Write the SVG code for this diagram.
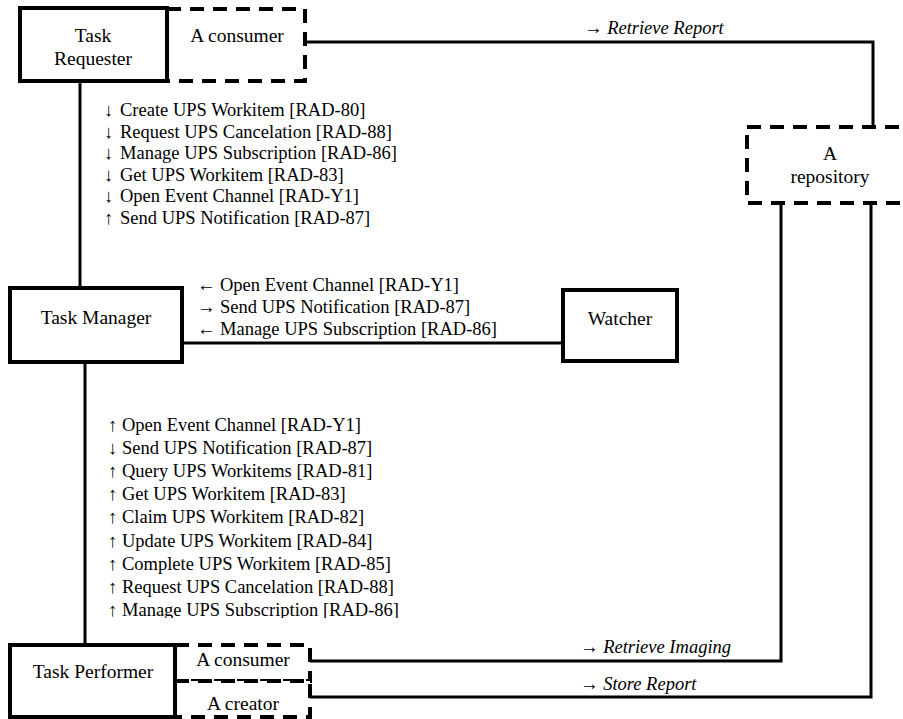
<svg xmlns="http://www.w3.org/2000/svg" width="903" height="719" viewBox="0 0 903 719">
<style>
.box{fill:#fff;stroke:#000;stroke-width:4}
.dbox{fill:#fff;stroke:#000;stroke-width:4;stroke-dasharray:14 9}
.ln{fill:none;stroke:#000;stroke-width:3}
text{font-family:'Liberation Serif','Times New Roman',serif;font-size:18.5px;fill:#000}
.lbl{font-size:19.5px}
.c{text-anchor:middle}
.i{font-style:italic}
</style>
<defs>
<clipPath id="clipList"><rect x="90" y="380" width="420" height="238"/></clipPath>
</defs>
<rect width="903" height="719" fill="#fff"/>
<g id="connectors">
<line class="ln" x1="80" y1="81" x2="80" y2="288"/>
<line class="ln" x1="85" y1="362" x2="85" y2="645"/>
<line class="ln" x1="182" y1="343" x2="563" y2="343"/>
<polyline class="ln" points="305,42 873,42 873,127"/>
<polyline class="ln" points="310,661 781,661 781,203"/>
<polyline class="ln" points="310,697 871,697 871,203"/>
</g>
<g id="labels">
<text x="104" y="116">↓ <tspan x="120">Create UPS Workitem [RAD-80]</tspan></text>
<text x="104" y="137.5">↓ <tspan x="120">Request UPS Cancelation [RAD-88]</tspan></text>
<text x="104" y="159">↓ <tspan x="120">Manage UPS Subscription [RAD-86]</tspan></text>
<text x="104" y="180.5">↓ <tspan x="120">Get UPS Workitem [RAD-83]</tspan></text>
<text x="104" y="202">↓ <tspan x="120">Open Event Channel [RAD-Y1]</tspan></text>
<text x="104" y="223.5">↑ <tspan x="120">Send UPS Notification [RAD-87]</tspan></text>
<text x="197" y="291">← <tspan x="220">Open Event Channel [RAD-Y1]</tspan></text>
<text x="197" y="313">→ <tspan x="220">Send UPS Notification [RAD-87]</tspan></text>
<text x="197" y="335">← <tspan x="220">Manage UPS Subscription [RAD-86]</tspan></text>
<g clip-path="url(#clipList)">
<text x="108" y="430.5">↑ <tspan x="122">Open Event Channel [RAD-Y1]</tspan></text>
<text x="108" y="453.7">↓ <tspan x="122">Send UPS Notification [RAD-87]</tspan></text>
<text x="108" y="476.9">↑ <tspan x="122">Query UPS Workitems [RAD-81]</tspan></text>
<text x="108" y="500.1">↑ <tspan x="122">Get UPS Workitem [RAD-83]</tspan></text>
<text x="108" y="523.3">↑ <tspan x="122">Claim UPS Workitem [RAD-82]</tspan></text>
<text x="108" y="546.5">↑ <tspan x="122">Update UPS Workitem [RAD-84]</tspan></text>
<text x="108" y="569.7">↑ <tspan x="122">Complete UPS Workitem [RAD-85]</tspan></text>
<text x="108" y="592.9">↑ <tspan x="122">Request UPS Cancelation [RAD-88]</tspan></text>
<text x="108" y="616.1">↑ <tspan x="122">Manage UPS Subscription [RAD-86]</tspan></text>
</g>
<text class="i" x="584" y="34">→ Retrieve Report</text>
<text class="i" x="580" y="653">→ Retrieve Imaging</text>
<text class="i" x="580" y="690">→ Store Report</text>
</g>
<g id="requester-consumer">
<rect class="dbox" x="167" y="9" width="138" height="72"/>
<text class="c lbl" x="237" y="42">A consumer</text>
</g>
<g id="task-requester">
<rect class="box" x="20" y="8" width="147" height="73"/>
<text class="c lbl" x="93" y="42">Task</text>
<text class="c lbl" x="93" y="65">Requester</text>
</g>
<g id="repository">
<rect class="dbox" x="747" y="127" width="165" height="76"/>
<text class="c lbl" x="830" y="160">A</text>
<text class="c lbl" x="830" y="183">repository</text>
</g>
<g id="task-manager">
<rect class="box" x="10" y="288" width="172" height="74"/>
<text class="c lbl" x="96" y="324">Task Manager</text>
</g>
<g id="watcher">
<rect class="box" x="563" y="290" width="114" height="71"/>
<text class="c lbl" x="620" y="325">Watcher</text>
</g>
<g id="performer-consumer">
<rect class="dbox" x="175" y="645" width="135" height="36"/>
<text class="c lbl" x="243" y="666">A consumer</text>
</g>
<g id="performer-creator">
<rect class="dbox" x="175" y="681" width="135" height="36"/>
<text class="c lbl" x="243" y="710">A creator</text>
</g>
<g id="task-performer">
<rect class="box" x="10" y="645" width="165" height="72"/>
<text class="c lbl" x="93" y="678">Task Performer</text>
</g>
</svg>
